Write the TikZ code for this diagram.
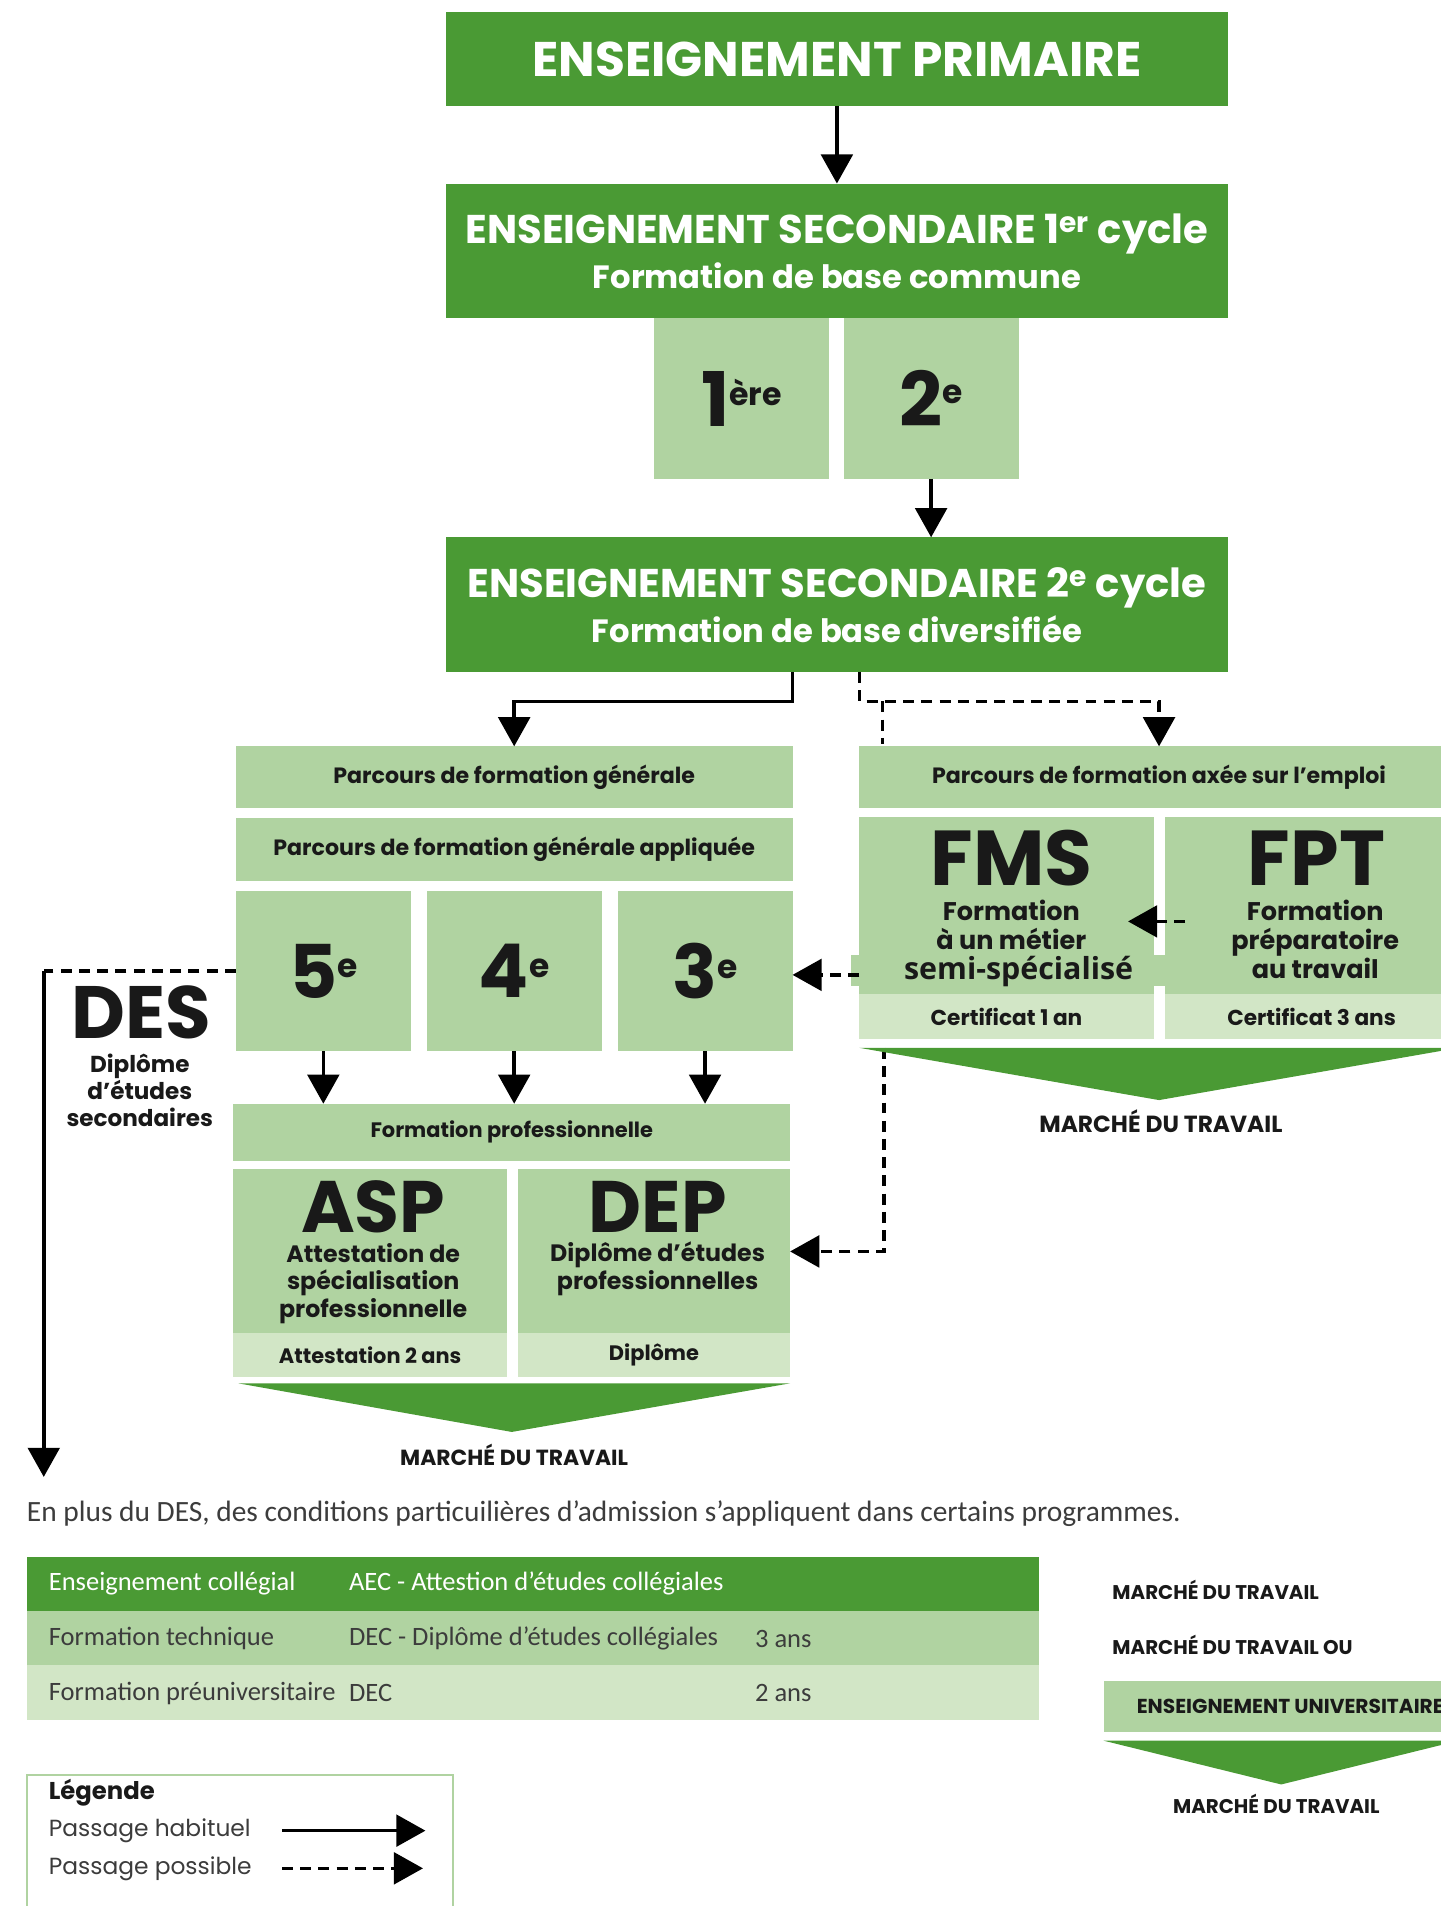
\documentclass[tikz,border=0pt]{standalone}
\usepackage{fontspec}
\setmainfont{Poppins}
\newfontfamily\narrowfont{Carlito}
\newfontfamily\patchfont{Open Sans}
\usetikzlibrary{arrows.meta,positioning,calc}

\definecolor{dkgreen}{RGB}{74,154,52}
\definecolor{ltgreen}{RGB}{176,211,161}
\definecolor{plgreen}{RGB}{210,230,198}
\definecolor{ink}{RGB}{25,25,25}
\definecolor{greytext}{RGB}{60,60,60}

\newcommand{\fsz}[2]{\fontsize{#1}{#2}\selectfont}

\tikzset{
  box/.style={anchor=north west, inner sep=0pt, outer sep=0pt},
  dark/.style={box, fill=dkgreen, text=white},
  light/.style={box, fill=ltgreen, text=ink},
  pale/.style={box, fill=plgreen, text=ink},
  lbl/.style={inner sep=0pt, text=ink, align=center},
  mk/.style={lbl, font=\bfseries\fsz{#1}{20}},
  mk/.default=16.3,
  cell/.style={inner sep=0pt, anchor=west, text=greytext, font=\narrowfont\fsz{21.8}{24}},
  arr/.style={line width=3pt, -{Triangle[length=24pt,width=26pt]}},
  darr/.style={arr, dash pattern=on 9pt off 6pt},
  dsh/.style={line width=3pt, dash pattern=on 9pt off 6pt},
}

\begin{document}
\begin{tikzpicture}[x=1pt,y=-1pt]
      \useasboundingbox (0,0) rectangle (1185,1568);
      \fill[white] (0,0) rectangle (1185,1568);

      % primaire et secondaire 1er cycle
      \node[dark, minimum width=643, minimum height=77, font=\bfseries\fsz{40}{44}] (prim) at (367,10) {ENSEIGNEMENT PRIMAIRE};
      \node[dark, minimum width=643, minimum height=111, align=center, font=\bfseries\fsz{33}{37}] (secun) at (367,151)
        {ENSEIGNEMENT SECONDAIRE 1\textsuperscript{er} cycle\\\fsz{26.5}{37}Formation de base commune};
      \node[light, minimum width=144, minimum height=132, font=\bfseries] (un) at (538,262)
        {\fsz{62}{62}1\raisebox{17pt}{\fsz{26}{26}ère}};
      \node[light, minimum width=144, minimum height=132, font=\bfseries] (deux) at (694,262)
        {\fsz{62}{62}2\raisebox{19pt}{\fsz{27}{27}e}};
      \node[dark, minimum width=643, minimum height=111, align=center, font=\bfseries\fsz{33}{37}] (secdeux) at (367,442)
        {ENSEIGNEMENT SECONDAIRE 2\textsuperscript{e} cycle\\\fsz{26.5}{37}Formation de base diversifiée};

      \draw[arr] (prim) -- (secun);
      \draw[arr] (deux) -- (deux |- secdeux.north);

      % parcours de formation generale
      \node[light, minimum width=458, minimum height=51, font=\bfseries\fsz{18.2}{20}] (gen) at (194,614) {Parcours de formation générale};
      \node[light, minimum width=458, minimum height=52, font=\bfseries\fsz{18.2}{20}] (appl) at (194,673) {Parcours de formation générale appliquée};
      \node[light, minimum width=144, minimum height=132, font=\bfseries] (cinq) at (194,733)
        {\fsz{61}{61}5\raisebox{17pt}{\fsz{27}{27}e}};
      \node[light, minimum width=144, minimum height=132, font=\bfseries] (quatre) at (351,733)
        {\fsz{61}{61}4\raisebox{17pt}{\fsz{27}{27}e}};
      \node[light, minimum width=144, minimum height=132, font=\bfseries] (trois) at (508,733)
        {\fsz{61}{61}3\raisebox{17pt}{\fsz{27}{27}e}};

      % parcours axe sur l'emploi
      \node[light, minimum width=493, minimum height=51, font=\bfseries\fsz{18.2}{20}] (emp) at (707,614) {Parcours de formation axée sur l’emploi};
      \node[light, minimum width=242, minimum height=146] (fms) at (707,672) {};
      \node[pale, minimum width=242, minimum height=37, font=\bfseries\fsz{17.8}{20}] (fmscert) at (707,818) {Certificat 1 an};
      \node[light, minimum width=242, minimum height=146] (fpt) at (958,672) {};
      \node[pale, minimum width=242, minimum height=37, font=\bfseries\fsz{17.8}{20}] (fptcert) at (958,818) {Certificat 3 ans};
      \node[lbl, font=\bfseries\fsz{64}{64}] (fmsname) at (832,706) {FMS};
      \node[lbl, font=\bfseries\fsz{21}{24}] (fmstxt) at (832,761) {Formation\\à un métier};
      \node[lbl, font=\bfseries\fsz{64}{64}] (fptname) at (1083,706) {FPT};
      \node[lbl, font=\bfseries\fsz{21}{24}] (fpttxt) at (1082,773) {Formation\\préparatoire\\au travail};
      \node[box, fill=ltgreen, minimum width=275, minimum height=25] (patch) at (700,786) {};
      \node[lbl, font=\patchfont\bfseries\fsz{25}{26}] (semi) at (838,799) {semi-spécialisé};

      % fleches du 2e cycle
      \draw[arr] (secdeux.south -| gen.east) -- ++(0,24) -| (gen.north);
      \draw[darr] (secdeux.south -| emp.west) -- ++(0,24) -| (emp.north);
      \coordinate (empa) at ($(emp.north west)+(19,-37)$);
      \coordinate (empb) at ($(emp.north west)+(19,-2)$);
      \draw[dsh] (empa) -- (empb);
      \coordinate (fptout) at ($(fpt.west)+(17,13)$);
      \coordinate (fmsin) at ($(fms.east)+(-21,13)$);
      \draw[darr] (fptout) -- (fmsin);
      \coordinate (fmsout) at ($(fms.south west)+(0,-16)$);
      \draw[darr] (fmsout) -- (fmsout -| trois.east);

      % DES
      \node[lbl, font=\bfseries\fsz{61}{61}] (des) at (116,833) {DES};
      \node[lbl, font=\bfseries\fsz{19}{22.5}] (destxt) at (115,897) {Diplôme\\d’études\\secondaires};
      \coordinate (desturn) at (36,799);
      \coordinate (desend) at (36,1215);
      \draw[dsh] (cinq.west) -- (desturn);
      \draw[arr] (desturn) -- (desend);

      % formation professionnelle
      \node[light, minimum width=458, minimum height=47, font=\bfseries\fsz{17.2}{20}] (fpro) at (192,908) {Formation professionnelle};
      \foreach \n in {cinq,quatre,trois}
        \draw[arr] (\n) -- (\n |- fpro.north);
      \node[light, minimum width=225, minimum height=135] (asp) at (192,962) {};
      \node[pale, minimum width=225, minimum height=36, font=\bfseries\fsz{17.2}{20}] (aspcert) at (192,1097) {Attestation 2 ans};
      \node[light, minimum width=224, minimum height=135] (dep) at (426,962) {};
      \node[pale, minimum width=224, minimum height=36, font=\bfseries\fsz{17.2}{20}] (depcert) at (426,1097) {Diplôme};
      \node[lbl, font=\bfseries\fsz{60}{60}] (aspname) at (307,993) {ASP};
      \node[lbl, font=\bfseries\fsz{19.5}{23}] (asptxt) at (307,1056) {Attestation de\\spécialisation\\professionnelle};
      \node[lbl, font=\bfseries\fsz{60}{60}] (depname) at (541,993) {DEP};
      \node[lbl, font=\bfseries\fsz{19.5}{23}] (deptxt) at (541,1044) {Diplôme d’études\\professionnelles};
      \coordinate (empout) at ($(fmscert.south west)+(20,7)$);
      \draw[darr] (empout) |- (dep.east);

      % marche du travail
      \fill[dkgreen] ($(aspcert.south west)+(4,5)$) -- ($(depcert.south east)+(0,5)$)
        -- ($(aspcert.south west)!0.5!(depcert.south east)+(0,45)$) -- cycle;
      \node[mk=18] (mtpro) at (423,1197) {MARCHÉ DU TRAVAIL};
      \fill[dkgreen] ($(fmscert.south west)+(0,7)$) -- ($(fptcert.south east)+(0,7)$)
        -- ($(fmscert.south west)!0.5!(fptcert.south east)+(0,50)$) -- cycle;
      \node[mk=19.2] (mtemp) at (955,922) {MARCHÉ DU TRAVAIL};

      % collegial
      \node[cell, font=\narrowfont\fsz{24.2}{26}] (note) at (22,1245)
        {En plus du DES, des conditions particuilières d’admission s’appliquent dans certains programmes.};
      \node[dark, minimum width=833, minimum height=44] (rowa) at (22,1281) {};
      \node[light, minimum width=833, minimum height=45] (rowb) at (22,1325) {};
      \node[pale, minimum width=833, minimum height=45] (rowc) at (22,1370) {};
      \node[cell, text=white] (rowa1) at (40,1303) {Enseignement collégial};
      \node[cell, text=white] (rowa2) at (287,1303) {AEC - Attestion d’études collégiales};
      \node[cell] (rowb1) at (40,1348) {Formation technique};
      \node[cell] (rowb2) at (287,1348) {DEC - Diplôme d’études collégiales};
      \node[cell] (rowb3) at (621,1348) {3 ans};
      \node[cell] (rowc1) at (40,1393) {Formation préuniversitaire};
      \node[cell] (rowc2) at (287,1393) {DEC};
      \node[cell] (rowc3) at (621,1393) {2 ans};

      \node[mk, anchor=west] (mtrow) at (915,1308) {MARCHÉ DU TRAVAIL};
      \node[mk, anchor=west] (mtou) at (915,1353) {MARCHÉ DU TRAVAIL OU};
      \node[light, minimum width=292, minimum height=42] (univ) at (908,1383) {};
      \node[mk=16.6, anchor=west] (univtxt) at (935,1404) {ENSEIGNEMENT UNIVERSITAIRE};
      \fill[dkgreen] ($(univ.south west)+(0,7)$) -- ($(univ.south east)+(0,7)$)
        -- ($(univ.south)+(0,43)$) -- cycle;
      \node[mk] (mtuni) at (1050,1484) {MARCHÉ DU TRAVAIL};

      % legende
      \node[box, draw=ltgreen, line width=1.5pt, minimum width=351, minimum height=130] (leg) at (22,1460) {};
      \node[lbl, anchor=west, font=\bfseries\fsz{20}{22}] (legtitle) at (40,1475) {Légende};
      \node[lbl, anchor=west, text=greytext, font=\fsz{19.2}{22}] (leghab) at (40,1506) {Passage habituel};
      \node[lbl, anchor=west, text=greytext, font=\fsz{19.2}{22}] (legpos) at (40,1537) {Passage possible};
      \coordinate (haba) at (232,1506);
      \coordinate (habb) at (350,1506);
      \coordinate (posa) at (232,1537);
      \coordinate (posb) at (348,1537);
      \draw[arr] (haba) -- (habb);
      \draw[darr] (posa) -- (posb);
    \end{tikzpicture}
\end{document}
